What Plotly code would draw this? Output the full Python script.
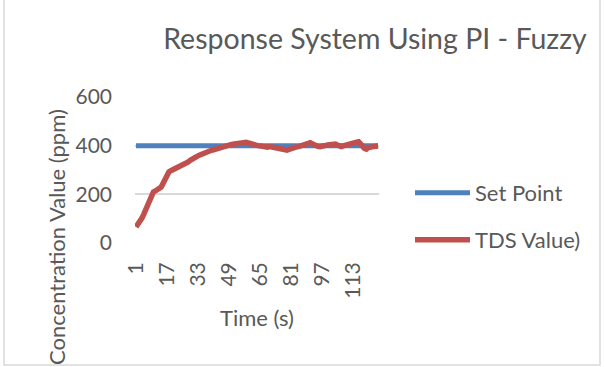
import plotly.graph_objects as go

time_s = list(range(1, 127))
set_point = [400] * 126
tds_value = [
    66, 75, 88, 101, 118, 138, 158, 182, 202, 210,
    214, 218, 223, 230, 245, 262, 280, 292, 297, 301,
    304, 307, 310, 314, 317, 320, 326, 333, 340, 346,
    350, 355, 358, 362, 366, 370, 373, 376, 378, 381,
    383, 386, 389, 391, 394, 396, 398, 400, 402, 404,
    406, 407, 409, 411, 413, 415, 416, 414, 411, 410,
    407, 404, 402, 400, 398, 396, 397, 395, 394, 396,
    394, 393, 393, 392, 390, 388, 386, 384, 382, 385,
    389, 392, 394, 395, 396, 398, 401, 405, 409, 411,
    412, 408, 403, 399, 397, 396, 396, 398, 401, 403,
    405, 406, 407, 407, 403, 398, 396, 399, 402, 404,
    406, 408, 409, 411, 414, 416, 410, 398, 389, 386,
    392, 395, 393, 396, 398, 399,
]
x_ticks = [1, 17, 33, 49, 65, 81, 97, 113]
y_ticks = [0, 200, 400, 600]

FONT = "Lato"
TXT = "#595959"

fig = go.Figure()
fig.add_trace(go.Scatter(x=time_s, y=set_point, mode="lines", name="Set Point",
                         line=dict(color="#4F81BD", width=5), legend="legend"))
fig.add_trace(go.Scatter(x=time_s, y=tds_value, mode="lines", name="TDS Value)",
                         line=dict(color="#C0504D", width=5.5), legend="legend2"))

W, H = 605, 367
L, R, T, B = 135, 226, 97, 124
pw, ph = W - L - R, H - T - B

def px(x):
    return (x - L) / pw

def py(y):
    return (H - B - y) / ph

fig.update_layout(
    width=W, height=H,
    margin=dict(l=L, r=R, t=T, b=B),
    paper_bgcolor="white", plot_bgcolor="white",
    font=dict(family=FONT, color=TXT, size=21),
    showlegend=True,
    title=dict(text="Response System Using PI - Fuzzy", font=dict(size=28.5, color=TXT),
               x=375 / W, xanchor="center", xref="container",
               y=1 - 39 / H, yanchor="middle", yref="container"),
    xaxis=dict(range=[0.5, 126.5], tickmode="array", tickvals=x_ticks,
               ticktext=[str(v) for v in x_ticks], tickangle=-90,
               showgrid=False, zeroline=False, showline=False,
               ticks="", ticklabelstandoff=14, tickfont=dict(size=21, color=TXT),
               title=dict(text="Time (s)", font=dict(size=22, color=TXT), standoff=12)),
    yaxis=dict(range=[0, 600], tickvals=y_ticks, showgrid=True, gridcolor="#D9D9D9",
               gridwidth=1.5, zeroline=False, showline=False, ticks="",
               ticklabelstandoff=22, tickfont=dict(size=21, color=TXT)),
    legend=dict(x=px(410), y=py(193), xanchor="left", yanchor="middle",
                font=dict(size=22, color=TXT), itemwidth=55, bgcolor="rgba(0,0,0,0)"),
    legend2=dict(x=px(410), y=py(240), xanchor="left", yanchor="middle",
                 font=dict(size=22, color=TXT), itemwidth=55, bgcolor="rgba(0,0,0,0)"),
    annotations=[dict(text="Concentration Value (ppm)", textangle=-90, showarrow=False,
                      xref="paper", yref="paper", x=px(56), y=py(237),
                      xanchor="center", yanchor="middle",
                      font=dict(size=22, color=TXT))],
    shapes=[dict(type="rect", xref="paper", yref="paper",
                 x0=px(4), x1=px(600), y0=py(365), y1=py(-5),
                 line=dict(color="#D9D9D9", width=1.5), layer="below")],
)

fig.write_html("out.html", config={"displayModeBar": False},
               post_script="document.body.style.margin='0';")
